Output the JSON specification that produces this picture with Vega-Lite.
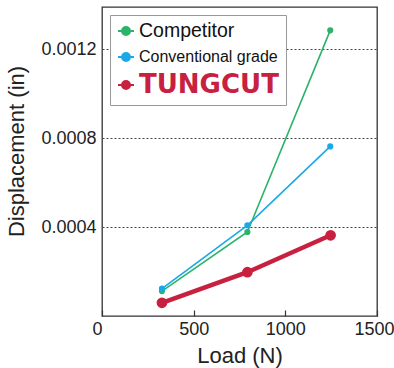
{
  "$schema": "https://vega.github.io/schema/vega-lite/v6.json",
  "width": 275,
  "height": 309,
  "autosize": {"type": "none"},
  "padding": {"left": 102, "top": 7, "right": 17, "bottom": 52},
  "background": "white",
  "config": {
    "font": "Liberation Sans",
    "view": {"stroke": "#333", "strokeWidth": 1.3},
    "axis": {"domain": false, "labelColor": "#222", "titleColor": "#222", "titleFontWeight": "normal"}
  },
  "data": {
    "values": [
      {"series": "Competitor", "load": 327, "disp": 0.000112},
      {"series": "Competitor", "load": 793, "disp": 0.000378},
      {"series": "Competitor", "load": 1245, "disp": 0.001285},
      {"series": "Conventional grade", "load": 327, "disp": 0.000123},
      {"series": "Conventional grade", "load": 793, "disp": 0.000408},
      {"series": "Conventional grade", "load": 1245, "disp": 0.000763},
      {"series": "TUNGCUT", "load": 327, "disp": 0.0000595},
      {"series": "TUNGCUT", "load": 793, "disp": 0.000197},
      {"series": "TUNGCUT", "load": 1247, "disp": 0.000363}
    ]
  },
  "encoding": {
    "x": {
      "field": "load", "type": "quantitative",
      "scale": {"domain": [0, 1500], "nice": false},
      "axis": {
        "title": "Load (N)", "titleFontSize": 22, "titleY": 46, "titleBaseline": "alphabetic",
        "values": [0, 500, 1000, 1500], "format": "d", "grid": false,
        "tickSize": -6, "tickColor": "#333", "tickWidth": 1.2,
        "labelFontSize": 18, "labelPadding": 10, "labelFlush": false,
        "labelAlign": {"condition": {"test": "datum.value === 0", "value": "right"}, "value": "center"},
        "labelOffset": {"condition": {"test": "datum.value === 1500", "value": -3}, "value": 0}
      }
    },
    "y": {
      "field": "disp", "type": "quantitative",
      "scale": {"domain": [0, 0.00139], "nice": false},
      "axis": {
        "title": "Displacement (in)", "titleFontSize": 22, "titleX": -86, "titleY": 144, "titleBaseline": "middle",
        "values": [0.0004, 0.0008, 0.0012], "format": ".4f",
        "ticks": false, "labelPadding": 6, "labelFontSize": 18,
        "grid": true, "gridDash": [2, 2], "gridColor": "#444", "gridWidth": 1
      }
    },
    "color": {
      "field": "series", "type": "nominal",
      "scale": {"domain": ["Competitor", "Conventional grade", "TUNGCUT"], "range": ["#2cb26b", "#1aa9e6", "#c8203f"]},
      "legend": {
        "title": null, "orient": "none", "legendX": 8, "legendY": 8,
        "padding": 7, "fillColor": "white", "strokeColor": "#999", "cornerRadius": 0,
        "symbolType": "M-1,0L1,0M-0.5,0A0.5,0.5,0,1,1,0.5,0A0.5,0.5,0,1,1,-0.5,0Z",
        "symbolSize": 256, "symbolStrokeWidth": 2, "labelOffset": 4, "rowPadding": 7,
        "labelLimit": 300,
        "encode": {
          "labels": {
            "update": {
              "fontSize": {"signal": "datum.label === 'Competitor' ? 19.5 : datum.label === 'TUNGCUT' ? 26 : 16"},
              "fill": {"signal": "datum.label === 'TUNGCUT' ? '#c8203f' : '#111'"},
              "fontWeight": {"signal": "datum.label === 'TUNGCUT' ? 'bold' : 'normal'"},
              "font": {"signal": "datum.label === 'TUNGCUT' ? 'DejaVu Sans' : 'Liberation Sans'"}
            }
          },
          "symbols": {
            "update": {
              "size": {"value": 256},
              "shape": {"value": "M-1,0L1,0M-0.5,0A0.5,0.5,0,1,1,0.5,0A0.5,0.5,0,1,1,-0.5,0Z"},
              "stroke": {"signal": "scale('color', datum.value)"},
              "fill": {"signal": "scale('color', datum.value)"},
              "strokeWidth": {"value": 2},
              "fillOpacity": {"value": 1},
              "strokeOpacity": {"value": 1},
              "opacity": {"value": 1}
            }
          }
        }
      }
    }
  },
  "layer": [
    {
      "mark": {"type": "line"},
      "encoding": {
        "strokeWidth": {"condition": {"test": "datum.series === 'TUNGCUT'", "value": 4.5}, "value": 1.6}
      }
    },
    {
      "mark": {"type": "point", "filled": true, "opacity": 1},
      "encoding": {
        "size": {"condition": {"test": "datum.series === 'TUNGCUT'", "value": 115}, "value": 38}
      }
    }
  ]
}
